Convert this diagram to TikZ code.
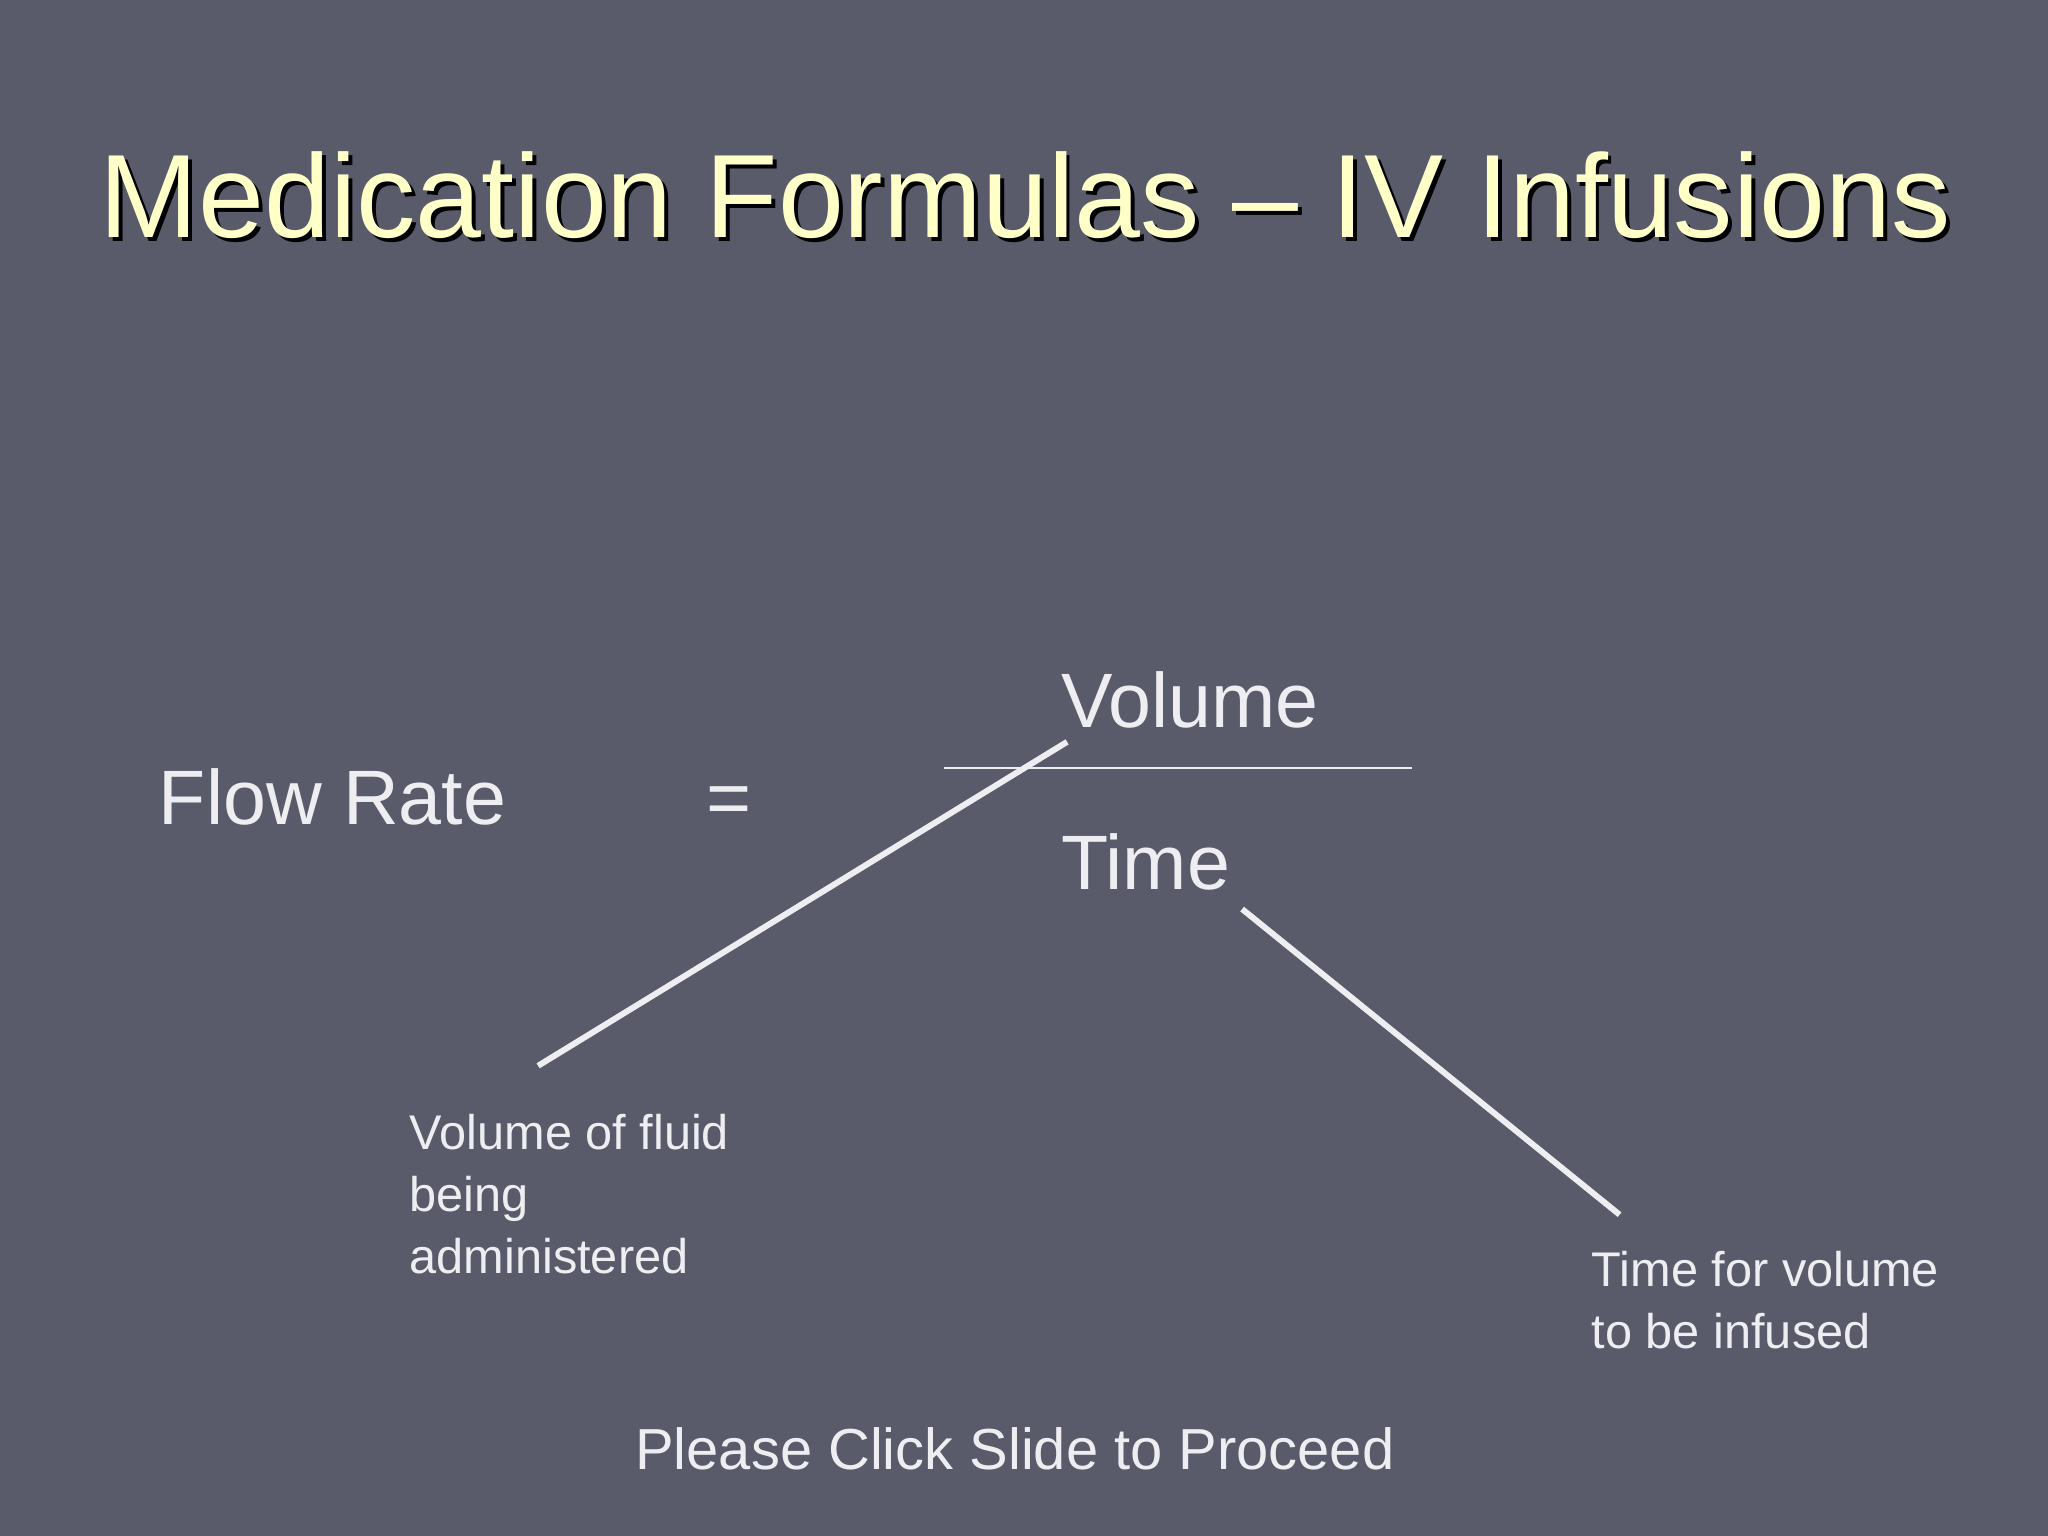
\documentclass[tikz,border=0pt]{standalone}
\usepackage{fontspec}
\setmainfont{Liberation Sans}
\definecolor{bg}{HTML}{595A6A}
\definecolor{ttl}{HTML}{FFFFC8}
\definecolor{txt}{HTML}{EEEEF2}
\begin{document}
\begin{tikzpicture}[x=0.01cm,y=-0.01cm,
  lbl/.style={text=txt,anchor=base west,inner sep=0pt},
  big/.style={lbl,font=\fontsize{16.8}{20}\selectfont},
  small/.style={lbl,font=\fontsize{10.6}{13.5}\selectfont,align=left},
  ptr/.style={draw=txt,line width=1.3pt}]
\fill[bg] (0,0) rectangle (1568,1176);
\useasboundingbox (0,0) rectangle (1568,1176);
\node[anchor=base,inner sep=0pt,text=black,font=\fontsize{25.8}{30}\selectfont] at (788,185) {Medication Formulas – IV Infusions};
\node[anchor=base,inner sep=0pt,text=ttl,font=\fontsize{25.8}{30}\selectfont] (title) at (785,182) {Medication Formulas – IV Infusions};
\node[big] (fr) at (121,631) {Flow Rate};
\node[big] (eq) at (540,631) {=};
\node[big] (vol) at (812,557) {Volume};
\node[big] (time) at (812,681) {Time};
\coordinate (fl) at (723,588);
\coordinate (fr2) at (1081,588);
\draw[draw=txt,line width=0.5pt] (fl) -- (fr2);
\node[small,anchor=north west] (vf) at (313,852) {Volume of fluid\\being\\administered};
\node[small,anchor=north west] (tf) at (1218,957) {Time for volume\\to be infused};
\coordinate (a1) at (817,568); \coordinate (a2) at (412,816);
\coordinate (b1) at (951,696); \coordinate (b2) at (1240,930);
\draw[ptr] (a1) -- (a2);
\draw[ptr] (b1) -- (b2);
\node[anchor=base,inner sep=0pt,text=txt,font=\fontsize{12.6}{15}\selectfont] (pc) at (777,1125) {Please Click Slide to Proceed};
\end{tikzpicture}
\end{document}
